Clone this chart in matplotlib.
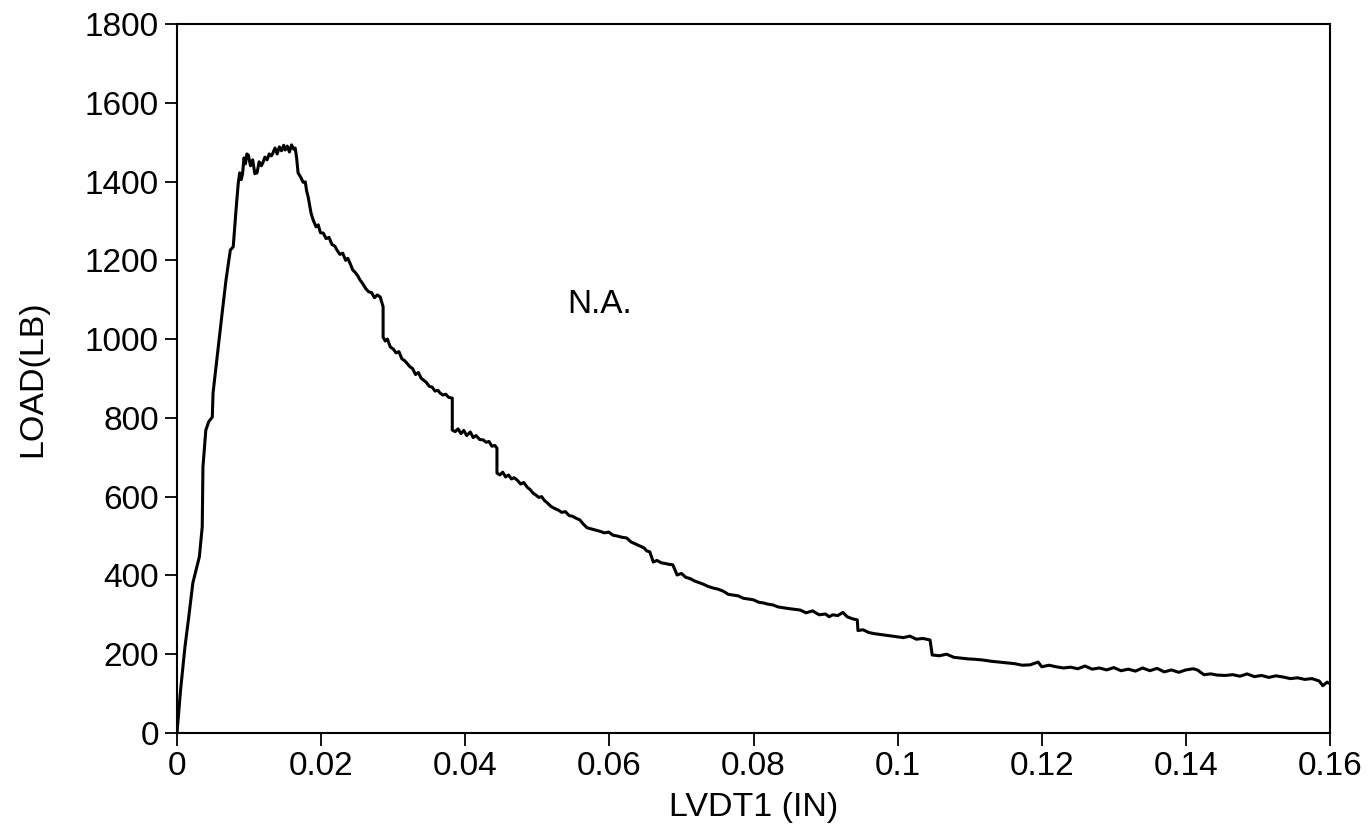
import matplotlib
matplotlib.use("Agg")
import matplotlib.pyplot as plt

# LVDT1 displacement (in) and load (lb)
lvdt_in = [
    0, 0.0005, 0.0011, 0.0016, 0.0022, 0.0031, 0.0035, 0.0036, 0.0040, 0.0044,
    0.0049, 0.0050, 0.0056, 0.0062, 0.0068, 0.0074, 0.0078, 0.0082, 0.0085, 0.0087,
    0.0089, 0.0091, 0.0093, 0.0095, 0.0097, 0.0099, 0.0102, 0.0105, 0.0108, 0.0111,
    0.0114, 0.0117, 0.0119, 0.0122, 0.0125, 0.0128, 0.0131, 0.0133, 0.0136, 0.0139,
    0.0142, 0.0145, 0.0148, 0.0150, 0.0153, 0.0156, 0.0159, 0.0162, 0.0164, 0.0166,
    0.0168, 0.0172, 0.0175, 0.0178, 0.0180, 0.0182, 0.0186, 0.0189, 0.0193, 0.0196,
    0.0199, 0.0203, 0.0207, 0.0211, 0.0215, 0.0219, 0.0222, 0.0226, 0.0230, 0.0234,
    0.0237, 0.0240, 0.0244, 0.0247, 0.0251, 0.0254, 0.0258, 0.0262, 0.0266, 0.0270,
    0.0274, 0.0278, 0.0282, 0.0286, 0.0286, 0.0289, 0.0292, 0.0296, 0.0300, 0.0304,
    0.0308, 0.0312, 0.0316, 0.0319, 0.0323, 0.0327, 0.0331, 0.0335, 0.0339, 0.0342,
    0.0346, 0.0350, 0.0354, 0.0358, 0.0362, 0.0365, 0.0369, 0.0373, 0.0377, 0.0382,
    0.0382, 0.0386, 0.0390, 0.0394, 0.0398, 0.0402, 0.0407, 0.0411, 0.0415, 0.0420,
    0.0425, 0.0429, 0.0433, 0.0437, 0.0441, 0.0444, 0.0444, 0.0448, 0.0452, 0.0456,
    0.0460, 0.0464, 0.0468, 0.0472, 0.0477, 0.0481, 0.0486, 0.0490, 0.0494, 0.0498,
    0.0502, 0.0506, 0.0510, 0.0514, 0.0519, 0.0524, 0.0529, 0.0534, 0.0539, 0.0544,
    0.0549, 0.0554, 0.0559, 0.0564, 0.0569, 0.0575, 0.0581, 0.0587, 0.0593, 0.0599,
    0.0605, 0.0611, 0.0617, 0.0624, 0.0630, 0.0636, 0.0642, 0.0648, 0.0652, 0.0656,
    0.0661, 0.0666, 0.0672, 0.0678, 0.0683, 0.0688, 0.0694, 0.0700, 0.0706, 0.0712,
    0.0718, 0.0724, 0.0730, 0.0737, 0.0744, 0.0751, 0.0758, 0.0765, 0.0772, 0.0779,
    0.0786, 0.0793, 0.0800, 0.0807, 0.0814, 0.0820, 0.0827, 0.0834, 0.0841, 0.0848,
    0.0856, 0.0865, 0.0873, 0.0882, 0.0891, 0.0900, 0.0905, 0.0910, 0.0917, 0.0924,
    0.0930, 0.0937, 0.0944, 0.0945, 0.0952, 0.0960, 0.0968, 0.0976, 0.0984, 0.0992,
    0.0999, 0.1008, 0.1017, 0.1026, 0.1035, 0.1045, 0.1048, 0.1058, 0.1068, 0.1078,
    0.1088, 0.1098, 0.1108, 0.1119, 0.1130, 0.1141, 0.1152, 0.1162, 0.1173, 0.1184,
    0.1195, 0.1200, 0.1210, 0.1220, 0.1230, 0.1240, 0.1250, 0.1260, 0.1270, 0.1280,
    0.1290, 0.1300, 0.1310, 0.1320, 0.1330, 0.1340, 0.1350, 0.1360, 0.1370, 0.1380,
    0.1390, 0.1400, 0.1410, 0.1416, 0.1425, 0.1435, 0.1443, 0.1455, 0.1465, 0.1475,
    0.1485, 0.1495, 0.1505, 0.1515, 0.1525, 0.1535, 0.1545, 0.1555, 0.1565, 0.1575,
    0.1585, 0.1590, 0.1596, 0.1600,
]
load_lb = [
    0, 110, 218, 290, 381, 447, 523, 675, 769, 790,
    802, 863, 960, 1056, 1150, 1226, 1234, 1330, 1396, 1422,
    1405, 1420, 1460, 1445, 1470, 1467, 1440, 1455, 1420, 1422,
    1450, 1440, 1447, 1462, 1455, 1470, 1465, 1472, 1485, 1470,
    1488, 1478, 1492, 1480, 1490, 1475, 1493, 1482, 1485, 1460,
    1422, 1410, 1398, 1399, 1375, 1361, 1320, 1302, 1285, 1290,
    1270, 1269, 1255, 1258, 1240, 1236, 1226, 1215, 1218, 1200,
    1205, 1193, 1175, 1170, 1160, 1150, 1140, 1128, 1120, 1118,
    1105, 1112, 1107, 1082, 1005, 995, 1000, 980, 975, 965,
    968, 950, 945, 939, 930, 925, 910, 915, 900, 896,
    890, 880, 878, 868, 870, 863, 858, 860, 852, 850,
    769, 765, 772, 760, 768, 755, 764, 750, 755, 745,
    744, 738, 740, 728, 730, 723, 660, 655, 662, 650,
    655, 645, 648, 642, 632, 636, 624, 618, 609, 604,
    598, 600, 590, 584, 575, 570, 566, 560, 562, 552,
    550, 545, 541, 530, 521, 518, 515, 512, 508, 510,
    502, 500, 497, 495, 485, 480, 475, 470, 462, 460,
    434, 438, 432, 430, 428, 427, 401, 405, 395, 392,
    386, 382, 378, 372, 368, 365, 360, 352, 350, 348,
    342, 340, 338, 332, 330, 327, 325, 320, 318, 316,
    314, 312, 305, 310, 300, 302, 295, 300, 298, 306,
    295, 290, 287, 260, 262, 255, 252, 250, 248, 246,
    244, 242, 246, 238, 240, 236, 198, 196, 200, 192,
    190, 188, 187, 185, 182, 180, 178, 176, 172, 173,
    180, 168, 172, 168, 165, 167, 163, 170, 162, 165,
    160, 166, 158, 162, 157, 165, 158, 164, 155, 160,
    154, 160, 163, 160, 148, 150, 147, 146, 148, 144,
    150, 143, 146, 141, 145, 142, 138, 140, 136, 138,
    132, 120, 129, 125,
]

x_ticks = [0, 0.02, 0.04, 0.06, 0.08, 0.1, 0.12, 0.14, 0.16]
x_tick_labels = ["0", "0.02", "0.04", "0.06", "0.08", "0.1", "0.12", "0.14", "0.16"]
y_ticks = [0, 200, 400, 600, 800, 1000, 1200, 1400, 1600, 1800]

plt.rcParams["font.family"] = ["Liberation Sans", "DejaVu Sans"]

fig = plt.figure(figsize=(13.7, 8.35), dpi=100)
ax = fig.add_axes([0.1292, 0.1222, 0.8416, 0.8491])

ax.plot(lvdt_in, load_lb, color="black", lw=2.2)

ax.set_xlim(0, 0.16)
ax.set_ylim(0, 1800)
ax.set_xticks(x_ticks)
ax.set_xticklabels(x_tick_labels)
ax.set_yticks(y_ticks)
ax.tick_params(axis="both", labelsize=24, length=9, width=1.3, direction="out", pad=4)
for s in ax.spines.values():
    s.set_linewidth(1.5)

ax.set_xlabel("LVDT1 (IN)", fontsize=24.5, labelpad=7)
ax.set_ylabel("LOAD(LB)", fontsize=24.5, labelpad=26)

ax.text(0.0587, 1087, "N.A.", fontsize=24, ha="center", va="center")

fig.savefig("out.png", dpi=100)
